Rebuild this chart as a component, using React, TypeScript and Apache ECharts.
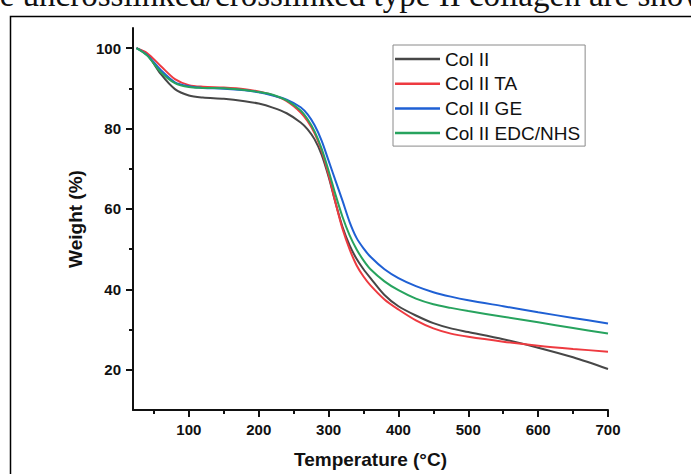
import React, { useEffect, useRef } from "react";
import * as echarts from "echarts";

const temps = [25, 40, 60, 80, 100, 120, 150, 180, 200, 220, 240, 260, 270, 280, 290, 300, 310, 320, 330, 340, 350, 360, 380, 400, 425, 450, 475, 500, 550, 600, 650, 700];

const colII = [100, 98.5, 93.5, 89.8, 88.2, 87.7, 87.4, 86.8, 86.2, 85.2, 83.8, 81.5, 79.8, 77.3, 73.5, 68, 61.5, 55.5, 51, 47.6, 45, 42.8, 38.6, 35.8, 33.5, 31.6, 30.3, 29.4, 27.6, 25.5, 23.1, 20.2];
const colIITA = [100, 98.8, 95.5, 92.3, 90.8, 90.4, 90.2, 89.8, 89.2, 88.3, 86.8, 84, 81.8, 78.8, 74.5, 68.5, 61.5, 55, 50, 46, 43.2, 41, 37.5, 35, 32.3, 30.3, 29, 28.2, 27, 26, 25.2, 24.5];
const colIIGE = [100, 98.3, 94.5, 91.5, 90.5, 90.1, 89.9, 89.5, 89, 88.2, 87.2, 85.3, 83.5, 80.8, 77, 72, 67, 62, 56.8, 52.8, 50.2, 48.1, 45, 42.8, 40.8, 39.3, 38.2, 37.3, 35.8, 34.3, 32.9, 31.5];
const colIIEDC = [100, 98.2, 94, 91.3, 90.3, 90.1, 90, 89.6, 89.1, 88.4, 87, 84.5, 82.3, 79.3, 75, 69.5, 63.5, 58, 53.5, 50, 47.2, 45, 42, 39.8, 37.7, 36.3, 35.4, 34.6, 33.2, 31.8, 30.4, 29];

const seriesNames = ["Col II", "Col II TA", "Col II GE", "Col II EDC/NHS"];
const seriesValues = [colII, colIITA, colIIGE, colIIEDC];
const seriesColors = ["#474747", "#ee3a40", "#1f60d4", "#27a35e"];

const xMajorTicks = [100, 200, 300, 400, 500, 600, 700];
const xMinorTicks = [50, 150, 250, 350, 450, 550, 650];
const yMajorTicks = [20, 40, 60, 80, 100];
const yMinorTicks = [30, 50, 70, 90];

const xTitle = "Temperature (°C)";
const yTitle = "Weight (%)";
const topText = "the uncrosslinked/crosslinked type II collagen are shown";

export default function App() {
  const ref = useRef<HTMLDivElement>(null);
  useEffect(() => {
    if (!ref.current) return;
    const chart = echarts.init(ref.current, null, { renderer: "svg" });
    const font = "Liberation Sans";
    const axisBase = {
      type: "value" as const,
      splitLine: { show: false },
    };
    chart.setOption({
      animation: false,
      backgroundColor: "#ffffff",
      grid: { left: 133, right: 83, top: 28, bottom: 62 },
      xAxis: [
        {
          ...axisBase,
          min: 20,
          max: 700,
          name: xTitle,
          nameLocation: "middle",
          nameGap: 40,
          nameTextStyle: { fontFamily: font, fontWeight: "bold", fontSize: 19, color: "#111" },
          axisLine: { show: true, onZero: false, lineStyle: { color: "#111", width: 2 } },
          axisTick: { show: true, inside: false, length: 7, lineStyle: { color: "#111", width: 2 }, customValues: xMajorTicks },
          axisLabel: { show: true, margin: 12, fontFamily: font, fontWeight: "bold", fontSize: 15, color: "#111", customValues: xMajorTicks },
        },
        {
          ...axisBase,
          min: 20,
          max: 700,
          position: "bottom",
          axisLine: { show: false, onZero: false },
          axisTick: { show: true, inside: false, length: 4, lineStyle: { color: "#111", width: 2 }, customValues: xMinorTicks },
          axisLabel: { show: false },
        },
      ],
      yAxis: [
        {
          ...axisBase,
          min: 10,
          max: 105,
          name: yTitle,
          nameLocation: "middle",
          nameGap: 43,
          nameTextStyle: { fontFamily: font, fontWeight: "bold", fontSize: 19, color: "#111" },
          axisLine: { show: true, onZero: false, lineStyle: { color: "#111", width: 2 } },
          axisTick: { show: true, inside: false, length: 7, lineStyle: { color: "#111", width: 2 }, customValues: yMajorTicks },
          axisLabel: { show: true, margin: 12, fontFamily: font, fontWeight: "bold", fontSize: 15, color: "#111", customValues: yMajorTicks },
        },
        {
          ...axisBase,
          min: 10,
          max: 105,
          position: "left",
          axisLine: { show: false, onZero: false },
          axisTick: { show: true, inside: false, length: 4, lineStyle: { color: "#111", width: 2 }, customValues: yMinorTicks },
          axisLabel: { show: false },
        },
      ],
      legend: {
        left: 393,
        top: 45,
        orient: "vertical",
        align: "left",
        icon: "rect",
        borderColor: "#8a8a8a",
        borderWidth: 1,
        padding: [4, 5, 3, 2],
        itemWidth: 45,
        itemHeight: 2.5,
        itemGap: 4.7,
        textStyle: { fontFamily: font, fontSize: 19, color: "#111", lineHeight: 20 },
        data: seriesNames,
      },
      graphic: [
        {
          type: "polyline",
          shape: { points: [[10.5, 474], [10.5, 16.5], [691, 16.5]] },
          style: { stroke: "#000", lineWidth: 1.5, fill: null },
          silent: true,
        },
        {
          type: "text",
          x: -26,
          y: 11,
          style: {
            text: topText,
            font: "33px 'Liberation Serif'",
            fill: "#111",
            textAlign: "left",
            textVerticalAlign: "bottom",
          },
          silent: true,
        },
      ],
      series: seriesNames.map((name, i) => ({
        name,
        type: "line",
        xAxisIndex: 0,
        yAxisIndex: 0,
        data: temps.map((t, j) => [t, seriesValues[i][j]]),
        smooth: 0.3,
        symbol: "none",
        showSymbol: false,
        lineStyle: { color: seriesColors[i], width: 2 },
        itemStyle: { color: seriesColors[i] },
      })),
    });
    return () => chart.dispose();
  }, []);
  return <div ref={ref} style={{ position: "fixed", left: 0, top: 0, width: 691, height: 474 }} />;
}
